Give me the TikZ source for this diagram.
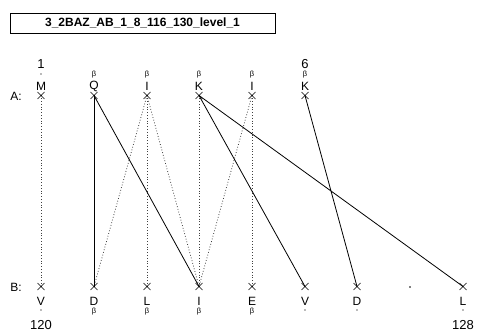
\documentclass[tikz,border=0pt]{standalone}
\usepackage{fontspec}
\setmainfont{Liberation Sans}
\usetikzlibrary{calc}
\begin{document}
\begin{tikzpicture}[x=1pt,y=-1pt,
  lbl/.style={font=\fontsize{12}{12}\selectfont, inner sep=0pt},
  num/.style={font=\fontsize{13}{13}\selectfont, inner sep=0pt},
  sml/.style={font=\fontsize{7.5}{7.5}\selectfont, inner sep=0pt},
  cross/.style={line width=0.7pt},
  solidlink/.style={line width=0.8pt, black},
  dotlink/.style={line width=0.8pt, black!75, dotted},
  titlebox/.style={draw, line width=0.8pt, minimum width=265pt, minimum height=20pt, inner sep=0pt, font=\fontsize{12}{12}\selectfont\bfseries}]
\useasboundingbox (0,0) rectangle (477,334);
\node[titlebox] (title) at (142.5,23) {3\_2BAZ\_AB\_1\_8\_116\_130\_level\_1};
% row labels
\node[lbl] (labA) at (16,96) {A:};
\node[lbl] (labB) at (16,287) {B:};
% A coordinates
\foreach \n/\x in {a1/41,a2/94,a3/147,a4/199,a5/252,a6/305}{
  \coordinate (\n) at (\x,95.5);
}
% B coordinates
\foreach \n/\x in {b1/41,b2/94,b3/147,b4/199,b5/252,b6/305,b7/357,b8/463}{
  \coordinate (\n) at (\x,286.5);
}
% links
\draw[dotlink] (a1) -- (b1);
\draw[dotlink] (a3) -- (b2);
\draw[dotlink] (a3) -- (b3);
\draw[dotlink] (a3) -- (b4);
\draw[dotlink] (a4) -- (b4);
\draw[dotlink] (a5) -- (b4);
\draw[dotlink] (a5) -- (b5);
\draw[solidlink] (a2) -- (b2);
\draw[solidlink] (a2) -- (b4);
\draw[solidlink] (a4) -- (b6);
\draw[solidlink] (a4) -- (b8);
\draw[solidlink] (a6) -- (b7);
% crosses
\foreach \n in {a1,a2,a3,a4,a5,a6,b1,b2,b3,b4,b5,b6,b7,b8}{
  \draw[cross] ($(\n)+(-3.5,-3.5)$) -- ($(\n)+(3.5,3.5)$) ($(\n)+(-3.5,3.5)$) -- ($(\n)+(3.5,-3.5)$);
}
% A labels
\foreach \x/\l/\s in {41/M/-,94/Q/β,147/I/β,199/K/β,252/I/β,305/K/β}{
  \node[lbl] at (\x,86.5) {\l};
  \node[sml] at (\x,75) {\s};
}
\node[num] (n1) at (41,64) {1};
\node[num] (n6) at (305,64) {6};
% B labels
\foreach \x/\l/\s in {41/V/-,94/D/β,147/L/β,199/I/β,252/E/β,305/V/-,357/D/-,463/L/-}{
  \node[lbl] at (\x,301.5) {\l};
  \node[sml] at (\x,311.5) {\s};
}
\node[num] (n120) at (41,325.5) {120};
\node[num] (n128) at (463,325.5) {128};
\fill (410,287) circle (0.8);
\end{tikzpicture}
\end{document}
